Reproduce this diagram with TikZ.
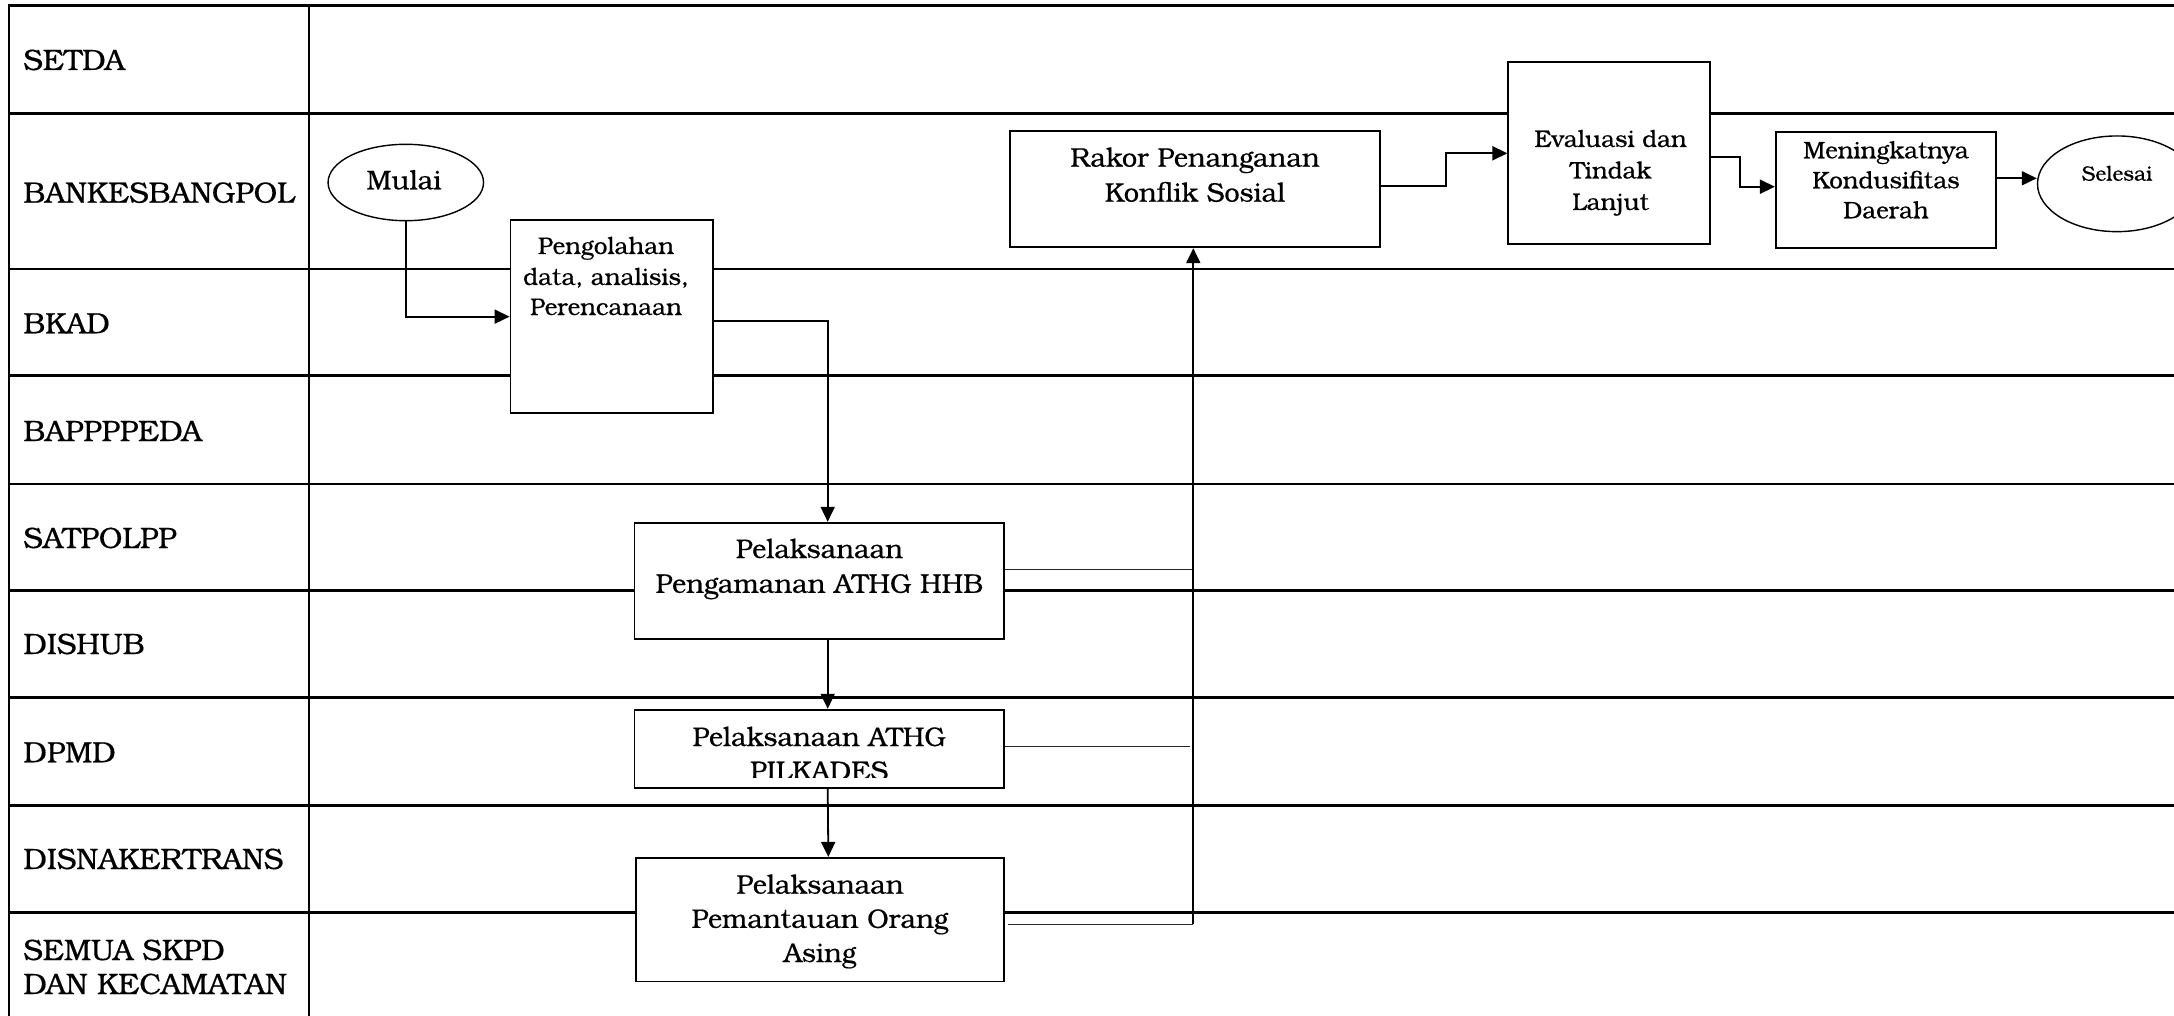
\documentclass[tikz,border=0pt]{standalone}
\usepackage{fontspec}
\setmainfont{TeX Gyre Bonum}[RawFeature={embolden=0.5}]
\usetikzlibrary{arrows.meta,shapes.geometric,fit}
\begin{document}
\begin{tikzpicture}[x=0.5pt,y=-0.5pt,
  grid/.style={line width=1.3pt},
  stepbox/.style={draw, line width=0.9pt, fill=white, inner sep=0pt},
  term/.style={draw, ellipse, line width=0.7pt, fill=white, inner sep=0pt},
  flow/.style={line width=0.9pt, -{Triangle[length=7.5pt,width=7pt]}},
  link/.style={line width=0.75pt, black!85},
  riser/.style={line width=1pt, -{Triangle[length=7.5pt,width=7pt]}},
  lane/.style={font=\fontsize{14.7}{17}\selectfont, anchor=base west, inner sep=0pt},
  big/.style={font=\fontsize{13.45}{16}\selectfont, anchor=base, inner sep=0pt},
  mid/.style={font=\fontsize{12}{14}\selectfont, anchor=base, inner sep=0pt},
  small/.style={font=\fontsize{11.95}{14}\selectfont, anchor=base, inner sep=0pt},
  tiny/.style={font=\fontsize{10.4}{12}\selectfont, anchor=base, inner sep=0pt},
]
\useasboundingbox (0,0) rectangle (2174,1016);
\clip (0,0) rectangle (2174,1016);

% swimlane grid
\draw[grid] (9,1016) -- (9,5.5) -- (2174,5.5);
\draw[grid] (309,5.5) -- (309,1016);
\foreach \y in {113.7,269,375.7,483.9,590.7,697.4,805.6,912.3}
  \draw[grid] (9,\y) -- (2174,\y);

% lane titles
\node[lane] (l1) at (23,70) {SETDA};
\node[lane] (l2) at (23,202.7) {BANKESBANGPOL};
\node[lane] (l3) at (23,333.3) {BKAD};
\node[lane] (l4) at (23,441) {BAPPPPEDA};
\node[lane] (l5) at (23,548) {SATPOLPP};
\node[lane] (l6) at (23,654) {DISHUB};
\node[lane] (l7) at (23,762.3) {DPMD};
\node[lane] (l8) at (23,869) {DISNAKERTRANS};
\node[lane] (l9a) at (23,960) {SEMUA SKPD};
\node[lane] (l9b) at (23,994) {DAN KECAMATAN};

% process boxes and terminators
\node[stepbox, fit={(510.5,220) (713.3,413.3)}] (peng) {};
\node[stepbox, fit={(634.4,522.7) (1004,639)}] (hhb) {};
\node[stepbox, fit={(634.4,709.7) (1004,787.7)}] (pilk) {};
\node[stepbox, fit={(635.7,857.8) (1004,981.5)}] (asing) {};
\node[stepbox, fit={(1010,131) (1380,247.3)}] (rakor) {};
\node[stepbox, fit={(1508.3,62.3) (1710.3,244.3)}] (eval) {};
\node[stepbox, fit={(1775.8,131.7) (1996,248.3)}] (mening) {};
\node[term, minimum width=77.75pt, minimum height=38.2pt] (mulai) at (405.8,182.5) {};
\node[term, minimum width=79.5pt, minimum height=47.85pt] (selesai) at (2117,183.8) {};

% box texts
\node[big] (tmulai) at (404,189.3) {Mulai};
\node[mid] (tp1) at (606,254) {Pengolahan};
\node[mid] (tp2) at (606,285) {data, analisis,};
\node[mid] (tp3) at (606,315) {Perencanaan};
\node[big] (th1) at (819.4,558) {Pelaksanaan};
\node[big] (th2) at (819.4,592.8) {Pengamanan ATHG HHB};
\begin{scope}
  \clip (634.4,709.7) rectangle (1004,777.5);
  \node[big] (tk1) at (819.2,746) {Pelaksanaan ATHG};
  \node[big] (tk2) at (819.2,780) {PILKADES};
\end{scope}
\node[big] (ta1) at (820,893.7) {Pelaksanaan};
\node[big] (ta2) at (820,927.9) {Pemantauan Orang};
\node[big] (ta3) at (820,962) {Asing};
\node[big] (tr1) at (1195,166.7) {Rakor Penanganan};
\node[big] (tr2) at (1195,201.7) {Konflik Sosial};
\node[small] (te1) at (1610.6,147) {Evaluasi dan};
\node[small] (te2) at (1610.6,178.5) {Tindak};
\node[small] (te3) at (1610.6,210) {Lanjut};
\node[small] (tm1) at (1886,158.3) {Meningkatnya};
\node[small] (tm2) at (1886,188.3) {Kondusifitas};
\node[small] (tm3) at (1886,218.3) {Daerah};
\node[tiny] (tsel) at (2117,180.7) {Selesai};

% connectors
\draw[flow] (mulai.south) |- (peng.west);
\draw[flow] ([yshift=-2pt]peng.east) -| ([xshift=4.25pt]hhb.north);
\draw[flow] ([xshift=4.25pt]hhb.south) -- ([xshift=4.25pt]pilk.north);
\draw[flow] ([xshift=4.25pt]pilk.south) -- ([xshift=4.25pt]asing.north);

\coordinate (vbot) at (1193.3,924.4);
\coordinate (a1) at ([xshift=1.5pt]asing.east);
\draw[link] (a1 |- vbot) -- (vbot);
\coordinate (h1) at ([yshift=5.7pt]hhb.east);
\draw[link] (h1) -- (h1 -| vbot);
\coordinate (p1) at ([yshift=1.1pt]pilk.east);
\draw[link, shorten >=1.6pt] (p1) -- (p1 -| vbot);
\draw[riser] (vbot) -- (rakor.south -| vbot);

\draw[flow] ([yshift=1.75pt]rakor.east) -- ++(32.5pt,0) |- (eval.west);
\draw[flow] ([yshift=-2pt]eval.east) -- ++(14.2pt,0) |- ([yshift=1.65pt]mening.west);
\coordinate (m1) at ([yshift=5.85pt]mening.east);
\draw[flow] (m1) -- (m1 -| selesai.west);
\end{tikzpicture}
\end{document}
